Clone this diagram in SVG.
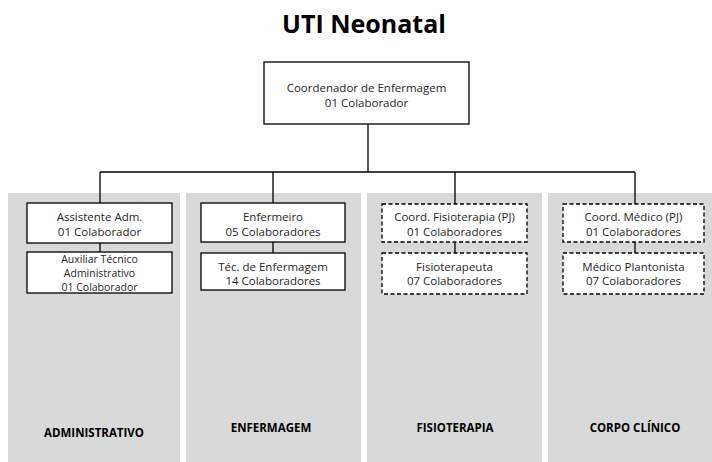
<svg xmlns="http://www.w3.org/2000/svg" width="712" height="462" viewBox="0 0 712 462">
<style>
.panel{fill:#d9d9d9}
.box{fill:#fff;stroke:#000;stroke-width:1.3}
.dash{stroke-dasharray:4,2.5}
.t{font-family:"Open Sans","Liberation Sans",sans-serif;font-size:11.5px;fill:#262626;text-anchor:middle}
.s{font-size:10.5px}
.lbl{font-family:"Open Sans","Liberation Sans",sans-serif;font-size:11.5px;font-weight:bold;fill:#000;text-anchor:middle}
.title{font-family:"Open Sans","Liberation Sans",sans-serif;font-size:25px;font-weight:bold;fill:#000;text-anchor:middle}
.c{fill:none;stroke:#000;stroke-width:1.3}
</style>
<rect width="712" height="462" fill="#fff"/>
<text class="title" x="364" y="33">UTI Neonatal</text>
<g id="panels">
<g id="panel-administrativo"><rect class="panel" x="8" y="193" width="172" height="270"/><text class="lbl" x="94" y="437">ADMINISTRATIVO</text></g>
<g id="panel-enfermagem"><rect class="panel" x="186" y="193" width="175" height="270"/><text class="lbl" x="271" y="432">ENFERMAGEM</text></g>
<g id="panel-fisioterapia"><rect class="panel" x="367" y="193" width="175" height="270"/><text class="lbl" x="455" y="432">FISIOTERAPIA</text></g>
<g id="panel-corpo-clinico"><rect class="panel" x="548" y="193" width="175" height="270"/><text class="lbl" x="635" y="432">CORPO CLÍNICO</text></g>
</g>
<g id="connectors">
<path class="c" d="M368 124V172M100 172H635M100 172V203M273 172V203M455 172V204M635 172V204"/>
<path class="c" d="M100 243V252M273 242V253M455 242V253M635 242V253"/>
</g>
<g id="coordenador"><rect class="box" x="264" y="62" width="205" height="62"/><text class="t" x="366.5" y="92">Coordenador de Enfermagem</text><text class="t" x="366.5" y="107">01 Colaborador</text></g>
<g id="assistente-adm"><rect class="box" x="27" y="203" width="145" height="40"/><text class="t" x="99.5" y="221">Assistente Adm.</text><text class="t" x="99.5" y="236">01 Colaborador</text></g>
<g id="auxiliar-tecnico"><rect class="box" x="27" y="252" width="145" height="41"/><text class="t s" x="99.5" y="263">Auxiliar Técnico</text><text class="t s" x="99.5" y="277">Administrativo</text><text class="t s" x="99.5" y="291">01 Colaborador</text></g>
<g id="enfermeiro"><rect class="box" x="201" y="203" width="144" height="39"/><text class="t" x="273" y="221">Enfermeiro</text><text class="t" x="273" y="236">05 Colaboradores</text></g>
<g id="tec-enfermagem"><rect class="box" x="201" y="253" width="144" height="37"/><text class="t" x="273" y="271">Téc. de Enfermagem</text><text class="t" x="273" y="285">14 Colaboradores</text></g>
<g id="coord-fisioterapia"><rect class="box dash" x="382" y="204" width="145" height="38"/><text class="t" x="454.5" y="221">Coord. Fisioterapia (PJ)</text><text class="t" x="454.5" y="236">01 Colaboradores</text></g>
<g id="fisioterapeuta"><rect class="box dash" x="382" y="253" width="145" height="41"/><text class="t" x="454.5" y="271">Fisioterapeuta</text><text class="t" x="454.5" y="285">07 Colaboradores</text></g>
<g id="coord-medico"><rect class="box dash" x="563" y="204" width="141" height="38"/><text class="t" x="633.5" y="221">Coord. Médico (PJ)</text><text class="t" x="633.5" y="236">01 Colaboradores</text></g>
<g id="medico-plantonista"><rect class="box dash" x="563" y="253" width="141" height="41"/><text class="t" x="633.5" y="271">Médico Plantonista</text><text class="t" x="633.5" y="285">07 Colaboradores</text></g>
</svg>
